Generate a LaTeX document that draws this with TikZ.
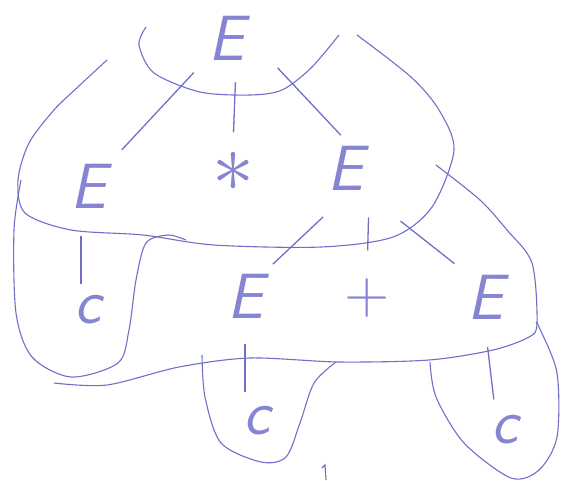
\RequirePackage{fix-cm}
\documentclass[tikz,border=0pt]{standalone}
\usepackage{fontspec}
\usepackage{tikz}
\usetikzlibrary{positioning}
\definecolor{pen}{HTML}{6F6FC9}

\begin{document}
\begin{tikzpicture}[x=1pt, y=-1pt,
  sym/.style={text=pen!85, font=\fontsize{64}{64}\selectfont\sffamily\slshape, inner sep=6pt},
  edge/.style={draw=pen, line width=1.3pt, shorten >=6pt, shorten <=6pt},
  blob/.style={draw=pen, line width=1.1pt}]
\useasboundingbox (0,0) rectangle (561,480);
% symbols of the tree
\node[sym] (root) at (226,38) {E};
\node[sym] (eL) at (88,186) {E};
\node[sym, font=\fontsize{84}{84}\selectfont] (times) at (233,172) {$\ast$};
\node[sym] (eR) at (345,168) {E};
\node[sym] (cL) at (88,310) {c};
\node[sym] (eM) at (245,296) {E};
\node[sym, font=\fontsize{62}{62}\selectfont\sffamily] (plus) at (367,298) {+};
\node[sym] (eRR) at (485,297) {E};
\node[sym] (cM) at (257,421) {c};
\node[sym] (cR) at (505,430) {c};
% tree edges
\draw[edge, shorten <=12pt, shorten >=14pt] (root) -- (eL);
\draw[edge, shorten <=16pt, shorten >=14pt] ([xshift=10pt]root.south) -- (times.north);
\draw[edge, shorten <=2pt] ([xshift=26pt]root.south east) -- (eR.north);
\draw[edge, shorten <=22pt, shorten >=5pt] ([xshift=-7pt]eL.south) -- ([xshift=-7pt]eL.south |- cL.north);
\draw[edge, shorten <=30pt, shorten >=5pt] (eR.south) -- (eM.north east);
\draw[edge, shorten <=21pt, shorten >=22pt] (eR.south east) -- (plus.north);
\draw[edge, shorten <=40pt, shorten >=8pt] (eR.south east) -- (eRR.north west);
\draw[edge, shorten <=20pt, shorten >=8pt] (eM.south) -- (eM.south |- cM.north);
\draw[edge, shorten <=22pt, shorten >=10pt] (eRR.south) -- ([xshift=-10pt]cR.north);
% blobs round the subtrees
\draw[blob] plot[smooth] coordinates {(146,27) (139,45) (154,73) (200,92) (250,95) (282,90) (311,68) (339,35)};
\draw[blob] plot[smooth] coordinates {(107,60) (80,85) (54,110) (29,143) (18,180) (25,213) (71,230) (143,235) (214,245) (321,247) (393,237) (432,207) (454,150) (439,110) (411,77) (357,35)};
\draw[blob] plot[smooth] coordinates {(21,180) (14,230) (16,313) (32,357) (71,377) (118,363) (129,330) (136,280) (146,243) (168,235) (186,240)};
\draw[blob] plot[smooth] coordinates {(436,165) (480,200) (507,230) (532,263) (537,323) (529,337) (493,350) (429,360) (339,362) (250,358) (179,367) (107,385) (54,383)};
\draw[blob] plot[smooth] coordinates {(202,355) (205,397) (221,443) (261,462) (286,457) (300,423) (314,383) (336,362)};
\draw[blob] plot[smooth] coordinates {(430,362) (436,397) (464,443) (511,478) (539,470) (557,437) (557,373) (539,327) (536,323)};
\draw[blob] (322,468) -- (325,465) -- (326,480);
\end{tikzpicture}
\end{document}
